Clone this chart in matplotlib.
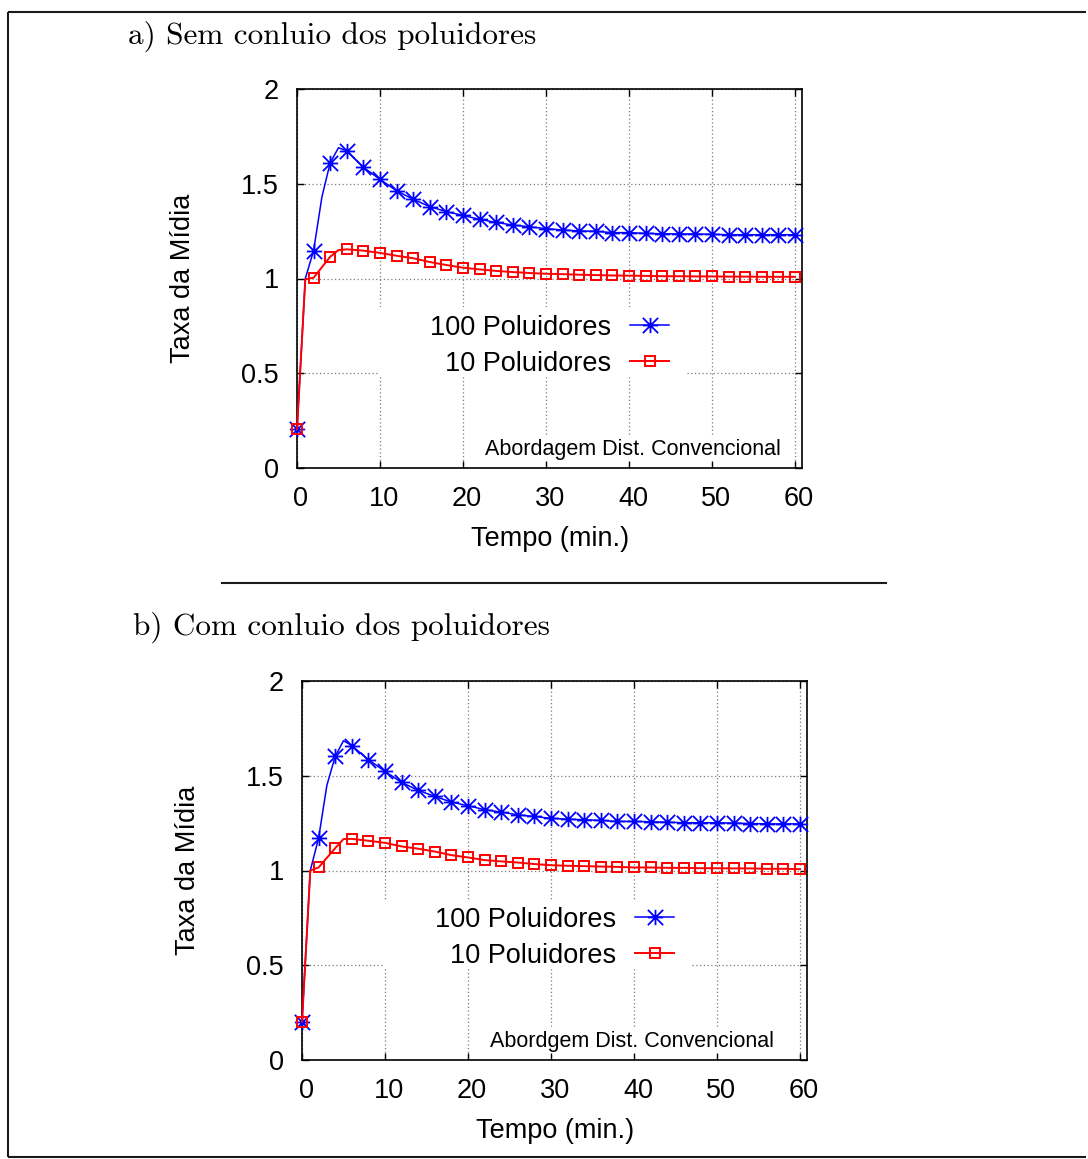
import numpy as np
import matplotlib
matplotlib.use("Agg")
import matplotlib.pyplot as plt
import matplotlib.transforms as mtransforms
from matplotlib.path import Path
from matplotlib.lines import Line2D
from matplotlib.patches import Rectangle

W, H, DPI = 1088, 1159, 100

plt.rcParams["font.family"] = ["Liberation Sans", "DejaVu Sans"]

# ---- data: time (min.) and mean rate for each scenario ----
# a) without collusion
t_100_a = [0, 1, 2, 3, 4, 5, 6, 8, 10, 12, 14, 16, 18, 20, 22, 24, 26, 28, 30,
           32, 34, 36, 38, 40, 42, 44, 46, 48, 50, 52, 54, 56, 58, 60]
v_100_a = [0.204, 1.00, 1.147, 1.43, 1.611, 1.690, 1.673, 1.587, 1.523, 1.463,
           1.418, 1.379, 1.353, 1.333, 1.312, 1.296, 1.282, 1.273, 1.263, 1.256,
           1.251, 1.249, 1.242, 1.242, 1.238, 1.236, 1.235, 1.235, 1.233, 1.231,
           1.231, 1.231, 1.231, 1.231]
t_10_a = [0, 1, 2, 4, 5, 6, 8, 10, 12, 14, 16, 18, 20, 22, 24, 26, 28, 30,
          32, 34, 36, 38, 40, 42, 44, 46, 48, 50, 52, 54, 56, 58, 60]
v_10_a = [0.204, 0.996, 1.004, 1.115, 1.150, 1.154, 1.147, 1.135, 1.120, 1.107,
          1.087, 1.071, 1.057, 1.048, 1.040, 1.034, 1.029, 1.025, 1.023, 1.020,
          1.018, 1.016, 1.015, 1.014, 1.012, 1.012, 1.011, 1.011, 1.010, 1.010,
          1.009, 1.009, 1.009]

# b) with collusion
t_100_b = [0, 1, 2, 3, 4, 5, 6, 8, 10, 12, 14, 16, 18, 20, 22, 24, 26, 28, 30,
           32, 34, 36, 38, 40, 42, 44, 46, 48, 50, 52, 54, 56, 58, 60]
v_100_b = [0.202, 1.00, 1.171, 1.45, 1.602, 1.685, 1.659, 1.585, 1.523, 1.465,
           1.423, 1.391, 1.361, 1.342, 1.321, 1.308, 1.294, 1.285, 1.275, 1.271,
           1.268, 1.264, 1.259, 1.259, 1.257, 1.255, 1.252, 1.252, 1.252, 1.250,
           1.248, 1.246, 1.246, 1.246]
t_10_b = [0, 1, 2, 4, 5, 6, 8, 10, 12, 14, 16, 18, 20, 22, 24, 26, 28, 30,
          32, 34, 36, 38, 40, 42, 44, 46, 48, 50, 52, 54, 56, 58, 60]
v_10_b = [0.202, 1.00, 1.016, 1.118, 1.166, 1.167, 1.157, 1.146, 1.127, 1.115,
          1.100, 1.081, 1.069, 1.055, 1.048, 1.042, 1.034, 1.028, 1.025, 1.023,
          1.021, 1.019, 1.016, 1.016, 1.014, 1.014, 1.012, 1.012, 1.011, 1.011,
          1.009, 1.009, 1.007]

series_labels = ["100 Poluidores", "10 Poluidores"]
x_ticks = [0, 10, 20, 30, 40, 50, 60]
y_ticks = [0, 0.5, 1, 1.5, 2]
y_tick_labels = ["0", "0.5", "1", "1.5", "2"]
panel_titles = ["a) Sem conluio dos poluidores", "b) Com conluio dos poluidores"]
notes = ["Abordagem Dist. Convencional", "Abordgem Dist. Convencional"]
x_label = "Tempo (min.)"
y_label = "Taxa da Mídia"

# gnuplot-style star: a "+" overlaid with an "x"
star = Path([(-1, 0), (1, 0), (0, -1), (0, 1), (-1, -1), (1, 1), (-1, 1), (1, -1)],
            [Path.MOVETO, Path.LINETO] * 4)

BLUE, RED = "#0000ff", "#ff0000"
INK = "#1a1a1a"

fig = plt.figure(figsize=(W / DPI, H / DPI), dpi=DPI)


def px_axes(left, top, right, bottom):
    return fig.add_axes([left / W, 1 - bottom / H, (right - left) / W, (bottom - top) / H])


def even_mask(t):
    return [ti % 2 == 0 for ti in t]


def draw_panel(ax, t100, v100, t10, v10, note, note_x, legend_box):
    ax.set_axisbelow(True)
    ax.plot(t100, v100, color=BLUE, lw=1.1, marker=star, markersize=11,
            markeredgewidth=1.3, markerfacecolor="none", markeredgecolor=BLUE,
            markevery=even_mask(t100), label=series_labels[0], zorder=3,
            clip_on=False)
    ax.plot(t10, v10, color=RED, lw=1.4, marker="s", markersize=7.5,
            markeredgewidth=1.4, markerfacecolor="none", markeredgecolor=RED,
            markevery=even_mask(t10), label=series_labels[1], zorder=3,
            clip_on=False)
    ax.set_xlim(0, 60.85)
    ax.set_ylim(0, 2)
    ax.set_xticks(x_ticks)
    ax.set_yticks(y_ticks)
    ax.set_yticklabels(y_tick_labels)
    ax.grid(True, color="#7a7a7a", lw=0.9, ls=(0, (1, 2)))
    ax.tick_params(direction="in", length=5, width=1, top=True, right=True,
                   labelsize=19.5, colors="black")
    ax.tick_params(axis="x", pad=13)
    ax.tick_params(axis="y", pad=13)
    shift = mtransforms.ScaledTranslation(4 / DPI, 0, fig.dpi_scale_trans)
    for lab in ax.get_xticklabels():
        lab.set_transform(lab.get_transform() + shift)
    for s in ax.spines.values():
        s.set_linewidth(1.2)
    # white key area hiding the grid
    x0, x1, y0, y1 = legend_box
    ax.add_patch(Rectangle((x0, y0), x1 - x0, y1 - y0, facecolor="white",
                           edgecolor="none", zorder=1))
    leg = ax.legend(loc="upper right", bbox_to_anchor=(0.737, 0.405),
                    markerfirst=False, frameon=False, fontsize=19.5,
                    handlelength=1.45, handletextpad=0.7, labelspacing=0.38,
                    borderpad=0, borderaxespad=0)
    leg._legend_box.align = "right"
    ax.text(note_x, 0.05, note, transform=ax.transAxes, ha="right", va="center",
            fontsize=15.5, zorder=4,
            bbox=dict(facecolor="white", edgecolor="none", pad=1))
    ax.text(0.501, -0.187, x_label, transform=ax.transAxes, ha="center",
            va="center", fontsize=19.5)
    ax.text(-0.2257, 0.5, y_label, transform=ax.transAxes, ha="center",
            va="center", rotation=90, fontsize=19.5)


ax_a = px_axes(297, 89, 802, 468)
draw_panel(ax_a, t_100_a, v_100_a, t_10_a, v_10_a, notes[0], 0.958,
           (9.8, 47.0, 0.49, 0.85))
ax_b = px_axes(302, 681, 807, 1060)
draw_panel(ax_b, t_100_b, v_100_b, t_10_b, v_10_b, notes[1], 0.935,
           (9.8, 47.0, 0.49, 0.845))

# panel captions in a serif face
fig.text(128 / W, 1 - 36 / H, panel_titles[0], family="cmr10", fontsize=22.5,
         ha="left", va="center")
fig.text(133 / W, 1 - 627 / H, panel_titles[1], family="cmr10", fontsize=22.5,
         ha="left", va="center")

# separator rule and outer frame (open on the right)
fig.add_artist(Line2D([222 / W, 886 / W], [1 - 583 / H, 1 - 583 / H],
                      color=INK, lw=1.5))
right_end = 1086 / W
for fx, fy in (([8 / W, right_end], [1 - 12 / H] * 2),
               ([8 / W, right_end], [1 - 1157 / H] * 2),
               ([8 / W, 8 / W], [1 - 12 / H, 1 - 1157 / H])):
    fig.add_artist(Line2D(fx, fy, color=INK, lw=1.5, solid_capstyle="butt"))

fig.savefig("out.png", dpi=DPI)
